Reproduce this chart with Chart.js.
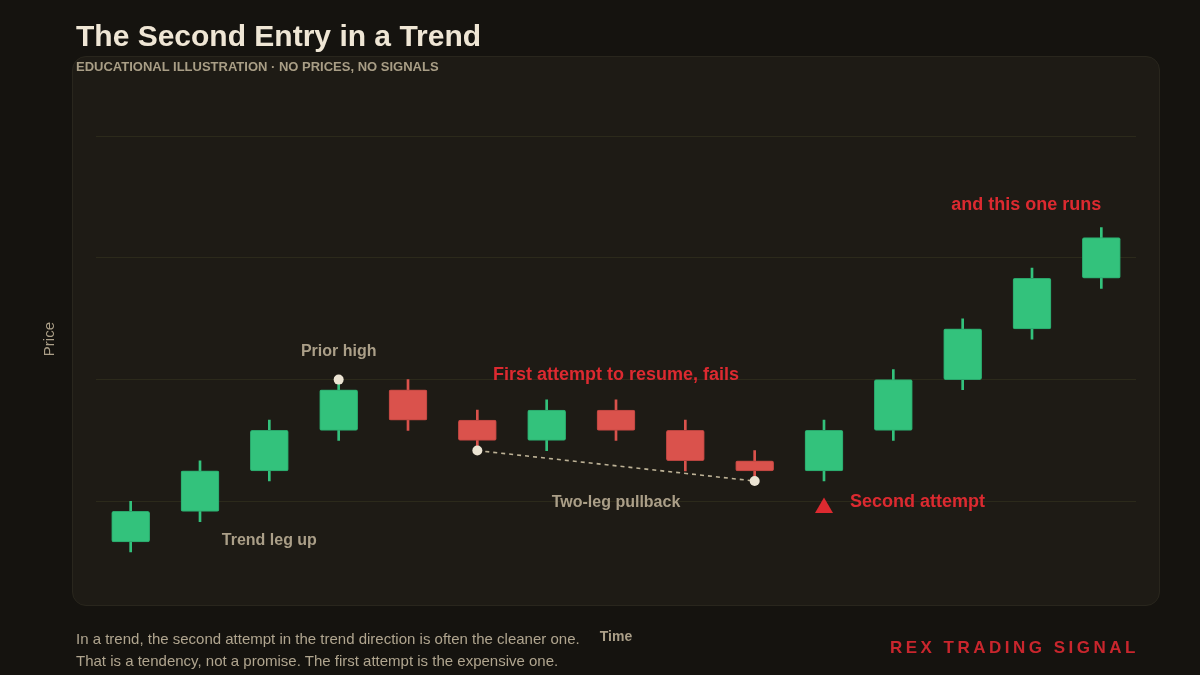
<!DOCTYPE html>
<html>
<head>
<meta charset="utf-8">
<title>The Second Entry in a Trend</title>
<script src="https://cdn.jsdelivr.net/npm/chart.js@4.4.1/dist/chart.umd.min.js"></script>
<style>
    html, body {
        margin: 0;
        padding: 0;
        background: #15130f;
        font-family: "Liberation Sans", Arial, Helvetica, sans-serif;
    }
    .page {
        position: relative;
        width: 1200px;
        height: 675px;
        overflow: hidden;
    }
    .panel {
        position: absolute;
        left: 72px;
        top: 56px;
        width: 1086px;
        height: 548px;
        background: #1e1b15;
        border: 1px solid #29261d;
        border-radius: 14px;
    }
    .chart-wrap {
        position: absolute;
        left: 0;
        top: 0;
        width: 1200px;
        height: 675px;
    }
    .title {
        position: absolute;
        left: 76px;
        top: 21px;
        font-size: 30px;
        line-height: 30px;
        font-weight: bold;
        color: #efe6d5;
    }
    .subtitle {
        position: absolute;
        left: 76px;
        top: 60px;
        font-size: 13px;
        line-height: 13px;
        font-weight: bold;
        color: #a99e86;
    }
    .note {
        position: absolute;
        left: 76px;
        top: 627.5px;
        font-size: 15px;
        line-height: 22px;
        color: #b0a58f;
    }
    .brand {
        position: absolute;
        right: 61px;
        top: 639px;
        font-size: 17px;
        line-height: 17px;
        font-weight: bold;
        letter-spacing: 3.5px;
        color: #c9262d;
    }
</style>
</head>
<body>
<div class="page">
    <div class="panel"></div>
    <div class="chart-wrap"><canvas id="trend-chart"></canvas></div>
    <div class="title">The Second Entry in a Trend</div>
    <div class="subtitle">EDUCATIONAL ILLUSTRATION · NO PRICES, NO SIGNALS</div>
    <div class="note">In a trend, the second attempt in the trend direction is often the cleaner one.<br>That is a tendency, not a promise. The first attempt is the expensive one.</div>
    <div class="brand">REX TRADING SIGNAL</div>
</div>

<script>
// Candles (illustrative price units)
const bars = ['1', '2', '3', '4', '5', '6', '7', '8', '9', '10', '11', '12', '13', '14', '15'];
const opens  = [96,  99, 103, 107, 111, 108, 106, 109, 107, 104, 103, 107, 112, 117, 122];
const highs  = [100, 104, 108, 112, 112, 109, 110, 110, 108, 105, 108, 113, 118, 123, 127];
const lows   = [95,  98, 102, 106, 107, 105, 105, 106, 103, 102, 102, 106, 111, 116, 121];
const closes = [99, 103, 107, 111, 108, 106, 109, 107, 104, 103, 107, 112, 117, 122, 126];

// Axis range and the few grid levels that are drawn
const priceMin = 92;
const priceMax = 140;
const gridLevels = [100, 112, 124, 136];

// Marked points: prior high and the two pullback lows
const priorHigh = [null, null, null, 112, null, null, null, null, null, null, null, null, null, null, null];
const pullbackLows = [null, null, null, null, null, 105, null, null, null, 102, null, null, null, null, null];
const secondEntry = [null, null, null, null, null, null, null, null, null, null, 99.35, null, null, null, null];

// Text notes: bar index, price level, colour kind, alignment
const notes = [
    { text: 'Prior high', i: 3, v: 114.8, kind: 'muted', align: 'center' },
    { text: 'Trend leg up', i: 2, v: 96.1, kind: 'muted', align: 'center' },
    { text: 'Two-leg pullback', i: 7, v: 99.9, kind: 'muted', align: 'center' },
    { text: 'First attempt to resume, fails', i: 7, v: 112.5, kind: 'alert', align: 'center' },
    { text: 'Second attempt', i: 10, v: 99.9, kind: 'alert', align: 'left', dx: 26 },
    { text: 'and this one runs', i: 14, v: 129.25, kind: 'alert', align: 'right' }
];

const upColor = '#33c27c';
const upEdge = '#2aa56a';
const downColor = '#da524c';
const downEdge = '#b8443f';
const alertRed = '#dc2a30';
const mutedText = '#ab9f88';

const isUp = opens.map((o, i) => closes[i] >= o);
const bodyColors = isUp.map(up => up ? upColor : downColor);
const edgeColors = isUp.map(up => up ? upEdge : downEdge);

// Draw the text notes at their price levels
const notesPlugin = {
    id: 'notes',
    afterDatasetsDraw(chart) {
        const ctx = chart.ctx;
        const x = chart.scales.x;
        const y = chart.scales.y;
        ctx.save();
        ctx.textBaseline = 'middle';
        notes.forEach(n => {
            const alert = n.kind === 'alert';
            ctx.font = 'bold ' + (alert ? 18 : 16) + 'px "Liberation Sans", Arial, sans-serif';
            ctx.fillStyle = alert ? alertRed : mutedText;
            ctx.textAlign = n.align;
            ctx.fillText(n.text, x.getPixelForValue(n.i) + (n.dx || 0), y.getPixelForValue(n.v));
        });
        ctx.restore();
    }
};

new Chart(document.getElementById('trend-chart'), {
    data: {
        labels: bars,
        datasets: [
            {
                type: 'line',
                label: 'Prior high',
                data: priorHigh,
                showLine: false,
                pointRadius: 5,
                pointBackgroundColor: '#ece4d3',
                pointBorderWidth: 0,
                order: 0
            },
            {
                type: 'line',
                label: 'Pullback',
                data: pullbackLows,
                spanGaps: true,
                borderColor: '#bdb296',
                borderWidth: 1.6,
                borderDash: [4, 4],
                pointRadius: 5,
                pointBackgroundColor: '#ece4d3',
                pointBorderWidth: 0,
                order: 1
            },
            {
                type: 'line',
                label: 'Second entry',
                data: secondEntry,
                showLine: false,
                pointStyle: 'triangle',
                pointRadius: 10.4,
                pointBackgroundColor: alertRed,
                pointBorderWidth: 0,
                order: 0
            },
            {
                type: 'bar',
                label: 'Body',
                data: opens.map((o, i) => [o, closes[i]]),
                backgroundColor: bodyColors,
                borderColor: edgeColors,
                borderWidth: 1,
                borderRadius: 2,
                borderSkipped: false,
                barThickness: 38,
                grouped: false,
                order: 2
            },
            {
                type: 'bar',
                label: 'Wick',
                data: lows.map((l, i) => [l, highs[i]]),
                backgroundColor: bodyColors,
                borderWidth: 0,
                barThickness: 2,
                grouped: false,
                order: 3
            }
        ]
    },
    options: {
        responsive: true,
        maintainAspectRatio: false,
        animation: false,
        layout: {
            padding: { left: 0, right: 64, top: 95.7, bottom: 29.6 }
        },
        plugins: {
            legend: { display: false },
            tooltip: { enabled: false }
        },
        scales: {
            x: {
                offset: true,
                grid: { display: false, drawTicks: false },
                border: { display: false },
                ticks: { display: false },
                title: {
                    display: true,
                    text: 'Time',
                    color: mutedText,
                    font: { family: '"Liberation Sans", Arial, sans-serif', size: 14, weight: 'bold' },
                    padding: { top: 46.2, bottom: 0 }
                }
            },
            y: {
                min: priceMin,
                max: priceMax,
                afterBuildTicks(scale) {
                    scale.ticks = gridLevels.map(v => ({ value: v }));
                },
                grid: { color: '#2c2a1b', lineWidth: 1, drawTicks: false },
                border: { display: false },
                ticks: { display: false },
                title: {
                    display: true,
                    text: 'Price',
                    color: mutedText,
                    font: { family: '"Liberation Sans", Arial, sans-serif', size: 15, weight: 'normal' },
                    padding: { top: 41, bottom: 37 }
                }
            }
        }
    },
    plugins: [notesPlugin]
});
</script>
</body>
</html>
